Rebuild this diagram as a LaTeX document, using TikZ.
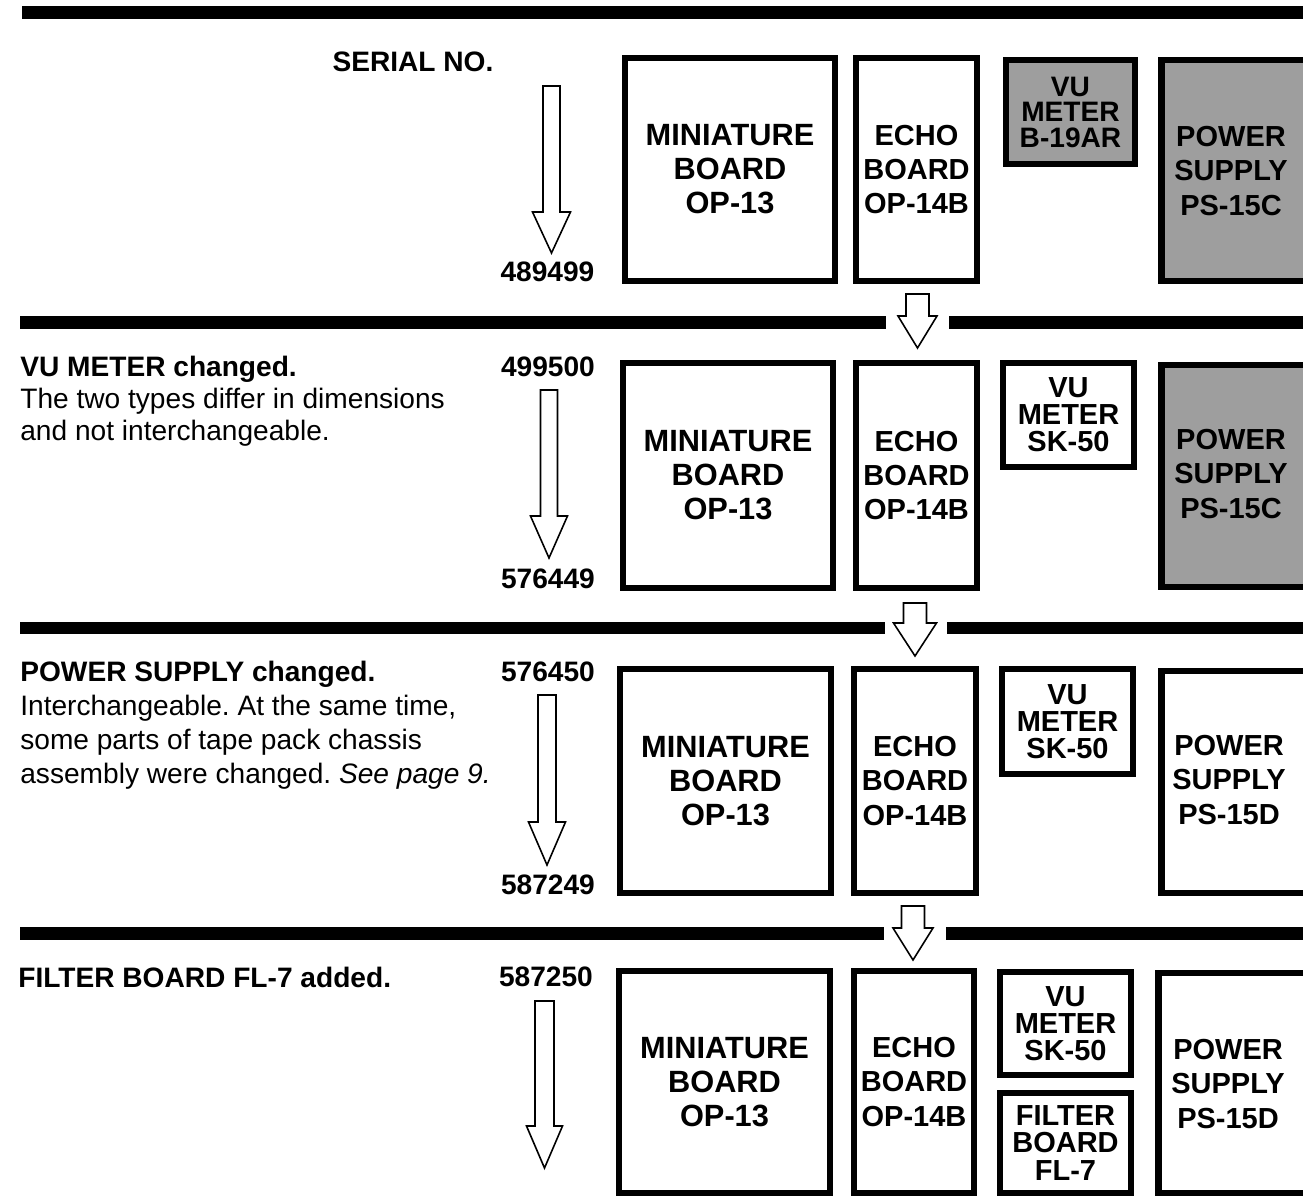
\documentclass[tikz,border=0pt]{standalone}
\usepackage{fontspec}
\setmainfont{Liberation Sans}
\frenchspacing

% hollow down arrow: x, top, head base, tip, half shaft, half head
\newcommand{\hollowdown}[6]{%
  \draw[harrow] ({#1-#5},#2) -- ({#1+#5},#2) -- ({#1+#5},#3) -- ({#1+#6},#3)
    -- (#1,#4) -- ({#1-#6},#3) -- ({#1-#5},#3) -- cycle;}

\begin{document}
\begin{tikzpicture}[
    x=0.02cm, y=-0.02cm,
    bx/.style={draw, line width=0.13cm, inner sep=0pt, align=center,
      font=\bfseries\fontsize{16.5}{19.4}\selectfont},
    mini/.style={bx, font=\bfseries\fontsize{17.5}{19.4}\selectfont},
    vu/.style={bx, font=\bfseries\fontsize{16.5}{15.4}\selectfont},
    gr/.style={fill=black!38},
    lbl/.style={inner sep=0pt, align=center, font=\bfseries\fontsize{16.5}{19.4}\selectfont},
    num/.style={inner sep=0pt, font=\bfseries\fontsize{16}{19}\selectfont},
    note/.style={anchor=north west, inner sep=0pt, align=left},
    bar/.style={line width=0.26cm},
    harrow/.style={line width=0.9pt, fill=white, line join=miter},
]
    \useasboundingbox (0,0) rectangle (1303,1196);

    % separators
    \draw[bar] (22,12.5) -- (1303,12.5);
    \draw[bar] (20,322.5) -- (886,322.5) (949,322.5) -- (1303,322.5);
    \draw[bar] (20,628) -- (885,628) (947,628) -- (1303,628);
    \draw[bar] (20,933) -- (884,933) (946,933) -- (1303,933);

    % row 1
    \node[num] (serial) at (413,62) {SERIAL NO.};
    \node[num] (s1b) at (547.5,272) {489499};
    \node[mini, minimum width=4.2cm, minimum height=4.46cm] (mb1) at (730,169.5) {MINIATURE\\BOARD\\OP-13};
    \node[bx, minimum width=2.42cm, minimum height=4.46cm] (eb1) at (916.5,169.5) {ECHO\\BOARD\\OP-14B};
    \node[vu, gr, minimum width=2.58cm, minimum height=2.08cm,
      font=\bfseries\fontsize{16}{14.5}\selectfont] (vu1) at (1070.5,112) {VU\\METER\\B-19AR};
    \node[bx, gr, minimum width=3.44cm, minimum height=4.42cm, anchor=west] (ps1) at (1158,170.5) {};
    \node[lbl] (ps1t) at (1231,171) {POWER\\SUPPLY\\PS-15C};
    \hollowdown{551.5}{86}{212}{253}{8.5}{19}
    \hollowdown{917.5}{294}{316}{348}{11.5}{19.5}

    % row 2
    \node[note, font=\fontsize{16}{18.2}\selectfont] (n2) at (20,356)
      {{\bfseries VU METER changed.}\\The two types differ in dimensions\\and not interchangeable.};
    \node[num] (s2a) at (548,367) {499500};
    \node[num] (s2b) at (548,579) {576449};
    \node[mini, minimum width=4.2cm, minimum height=4.5cm] (mb2) at (728,475.5) {MINIATURE\\BOARD\\OP-13};
    \node[bx, minimum width=2.42cm, minimum height=4.5cm] (eb2) at (916.5,475.5) {ECHO\\BOARD\\OP-14B};
    \node[vu, minimum width=2.62cm, minimum height=2.08cm] (vu2) at (1068.5,415) {VU\\METER\\SK-50};
    \node[bx, gr, minimum width=3.44cm, minimum height=4.44cm, anchor=west] (ps2) at (1158,476) {};
    \node[lbl] (ps2t) at (1231,474) {POWER\\SUPPLY\\PS-15C};
    \hollowdown{549}{390}{516}{558}{8.5}{18.5}
    \hollowdown{915}{603}{623}{656}{11.5}{21.5}

    % row 3
    \node[note, font=\fontsize{16}{19.3}\selectfont] (n3) at (20,661)
      {{\bfseries POWER SUPPLY changed.}\\Interchangeable. At the same time,\\some parts of tape pack chassis\\assembly were changed. \textit{See page 9.}};
    \node[num] (s3a) at (548,672) {576450};
    \node[num] (s3b) at (548,885) {587249};
    \node[mini, minimum width=4.22cm, minimum height=4.48cm] (mb3) at (725.5,781) {MINIATURE\\BOARD\\OP-13};
    \node[bx, minimum width=2.44cm, minimum height=4.48cm] (eb3) at (915,781) {ECHO\\BOARD\\OP-14B};
    \node[vu, minimum width=2.62cm, minimum height=2.1cm] (vu3) at (1067.5,721.5) {VU\\METER\\SK-50};
    \node[bx, minimum width=3.44cm, minimum height=4.44cm, anchor=west] (ps3) at (1158,782) {};
    \node[lbl] (ps3t) at (1229,780) {POWER\\SUPPLY\\PS-15D};
    \hollowdown{547}{695}{822}{865}{9}{18.5}
    \hollowdown{913}{906}{928}{960}{11.5}{20}

    % row 4
    \node[num, anchor=west] (n4) at (18,977) {FILTER BOARD FL-7 added.};
    \node[num] (s4a) at (546,977) {587250};
    \node[mini, minimum width=4.22cm, minimum height=4.44cm] (mb4) at (724.5,1082) {MINIATURE\\BOARD\\OP-13};
    \node[bx, minimum width=2.4cm, minimum height=4.44cm] (eb4) at (914,1082) {ECHO\\BOARD\\OP-14B};
    \node[vu, minimum width=2.62cm, minimum height=2.06cm] (vu4) at (1065.5,1023.5) {VU\\METER\\SK-50};
    \node[vu, minimum width=2.62cm, minimum height=2.0cm] (fb4) at (1065.5,1143) {FILTER\\BOARD\\FL-7};
    \node[bx, minimum width=3.5cm, minimum height=4.4cm, anchor=west] (ps4) at (1155,1083) {};
    \node[lbl] (ps4t) at (1228,1084) {POWER\\SUPPLY\\PS-15D};
    \hollowdown{544.5}{1001}{1126}{1168}{9.5}{18}
\end{tikzpicture}
\end{document}
